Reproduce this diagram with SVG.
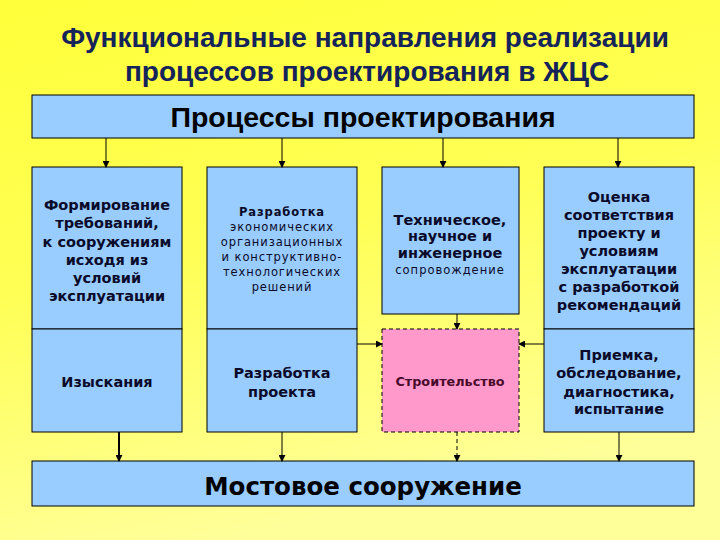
<svg xmlns="http://www.w3.org/2000/svg" width="720" height="540" viewBox="0 0 720 540">
<defs>
<linearGradient id="bg" x1="0" y1="0" x2="0.3" y2="1">
<stop offset="0" stop-color="#ffff3a"/>
<stop offset="0.5" stop-color="#ffff55"/>
<stop offset="1" stop-color="#ffff99"/>
</linearGradient>
<marker id="ah" viewBox="0 0 8 8" refX="7" refY="4" markerWidth="7" markerHeight="7" markerUnits="userSpaceOnUse" orient="auto">
<path d="M0,0 L8,4 L0,8 Z" fill="#000"/>
</marker>
<style>
.box{fill:#99ccff;stroke:#000;stroke-width:1}
.pink{fill:#ff99cc;stroke:#000;stroke-width:1;stroke-dasharray:4 3}
.title{font-family:"Liberation Sans",Arial,sans-serif;font-weight:bold;font-size:28px;fill:#14245a;text-anchor:middle}
.h{font-family:"Liberation Sans",Arial,sans-serif;font-weight:bold;font-size:28.5px;fill:#000;text-anchor:middle}
.t{font-family:"DejaVu Sans",Verdana,sans-serif;font-weight:bold;font-size:14.5px;fill:#0a0a2a;text-anchor:middle}
.s{font-family:"DejaVu Sans",Verdana,sans-serif;font-size:11.5px;letter-spacing:0.9px;fill:#0a0a2a;text-anchor:middle}
.big{font-family:"DejaVu Sans",Verdana,sans-serif;font-weight:bold;font-size:24.5px;fill:#000;text-anchor:middle}
.c{stroke:#000;stroke-width:1;fill:none;marker-end:url(#ah)}
</style>
</defs>
<rect width="720" height="540" fill="url(#bg)"/>
<g id="title">
<text class="title" x="365" y="47">Функциональные направления реализации</text>
<text class="title" x="367" y="81">процессов проектирования в ЖЦС</text>
</g>
<g id="top">
<rect class="box" x="32" y="95" width="662" height="43"/>
<text class="h" x="363" y="127">Процессы проектирования</text>
</g>
<g id="col1">
<rect class="box" x="32" y="167" width="150" height="162"/>
<text class="t" x="107" y="210">Формирование</text>
<text class="t" x="107" y="228">требований,</text>
<text class="t" x="107" y="247">к сооружениям</text>
<text class="t" x="107" y="265">исходя из</text>
<text class="t" x="107" y="283">условий</text>
<text class="t" x="107" y="301">эксплуатации</text>
</g>
<g id="col1b">
<rect class="box" x="32" y="329" width="150" height="103"/>
<text class="t" x="107" y="387">Изыскания</text>
</g>
<g id="col2">
<rect class="box" x="207" y="167" width="150" height="162"/>
<text class="s" x="282" y="216" style="font-weight:bold">Разработка</text>
<text class="s" x="282" y="231">экономических</text>
<text class="s" x="282" y="246">организационных</text>
<text class="s" x="282" y="261">и конструктивно-</text>
<text class="s" x="282" y="276">технологических</text>
<text class="s" x="282" y="291">решений</text>
</g>
<g id="col2b">
<rect class="box" x="207" y="329" width="150" height="103"/>
<text class="t" x="282" y="378">Разработка</text>
<text class="t" x="282" y="397">проекта</text>
</g>
<g id="col3">
<rect class="box" x="382" y="167" width="137" height="147"/>
<text class="t" x="450" y="225">Техническое,</text>
<text class="t" x="450" y="241">научное и</text>
<text class="t" x="450" y="258">инженерное</text>
<text class="s" x="450" y="274" style="letter-spacing:1px">сопровождение</text>
</g>
<g id="build">
<rect class="pink" x="382" y="329" width="137" height="103"/>
<text class="t" x="450" y="386" style="font-size:12.8px;fill:#4a0a2a">Строительство</text>
</g>
<g id="col4">
<rect class="box" x="544" y="167" width="150" height="162"/>
<text class="t" x="619" y="202">Оценка</text>
<text class="t" x="619" y="220">соответствия</text>
<text class="t" x="619" y="238">проекту и</text>
<text class="t" x="619" y="256">условиям</text>
<text class="t" x="619" y="274">эксплуатации</text>
<text class="t" x="619" y="292">с разработкой</text>
<text class="t" x="619" y="310">рекомендаций</text>
</g>
<g id="col4b">
<rect class="box" x="544" y="329" width="150" height="103"/>
<text class="t" x="619" y="360">Приемка,</text>
<text class="t" x="619" y="378">обследование,</text>
<text class="t" x="619" y="397">диагностика,</text>
<text class="t" x="619" y="414">испытание</text>
</g>
<g id="bottom">
<rect class="box" x="32" y="461" width="662" height="45"/>
<text class="big" x="363" y="495">Мостовое сооружение</text>
</g>
<g id="connectors">
<line class="c" x1="106" y1="138" x2="106" y2="167"/>
<line class="c" x1="282" y1="138" x2="282" y2="167"/>
<line class="c" x1="443" y1="138" x2="443" y2="167"/>
<line class="c" x1="618" y1="138" x2="618" y2="167"/>
<line class="c" x1="457" y1="314" x2="457" y2="329"/>
<line class="c" x1="357" y1="344" x2="382" y2="344"/>
<line class="c" x1="544" y1="344" x2="519" y2="344"/>
<line class="c" x1="119" y1="432" x2="119" y2="461" style="stroke-width:2"/>
<line class="c" x1="282" y1="432" x2="282" y2="461"/>
<line class="c" x1="457" y1="432" x2="457" y2="461" style="stroke-dasharray:4 3"/>
<line class="c" x1="619" y1="432" x2="619" y2="461"/>
</g>
</svg>
